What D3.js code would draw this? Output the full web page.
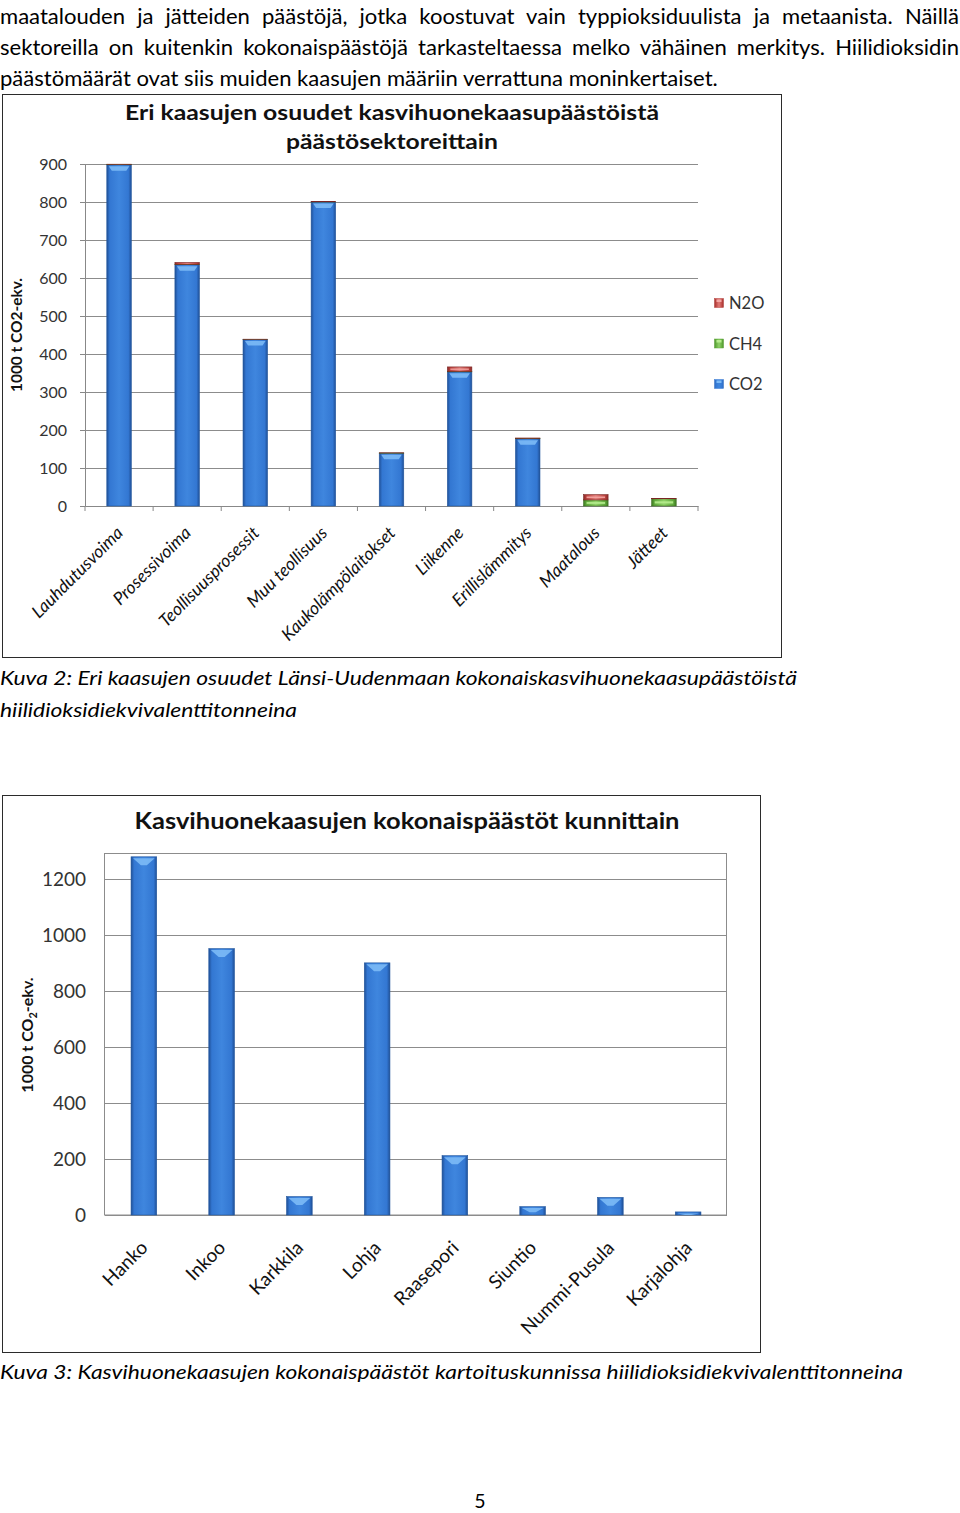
<!DOCTYPE html>
<html><head><meta charset="utf-8">
<script src="https://cdn.jsdelivr.net/npm/d3@7"></script>
<style>
html,body{margin:0;padding:0;background:#fff;}
svg{display:block;}
</style></head>
<body>
<svg id="page" width="960" height="1513"></svg>
<script>
// ---------- DATA ----------
const paragraphLines = [
  "maatalouden ja jätteiden päästöjä, jotka koostuvat vain typpioksiduulista ja metaanista. Näillä",
  "sektoreilla on kuitenkin kokonaispäästöjä tarkasteltaessa melko vähäinen merkitys. Hiilidioksidin",
  "päästömäärät ovat siis muiden kaasujen määriin verrattuna moninkertaiset."
];
const chart1TitleLines = ["Eri kaasujen osuudet kasvihuonekaasupäästöistä", "päästösektoreittain"];
const sectors = ["Lauhdutusvoima","Prosessivoima","Teollisuusprosessit","Muu teollisuus","Kaukolämpölaitokset","Liikenne","Erillislämmitys","Maatalous","Jätteet"];
const co2Values = [898, 635, 438, 800, 139, 353, 177, 0, 0];
const ch4Values = [0.5, 1, 0.5, 0.5, 0.5, 1, 1, 16, 19];
const n2oValues = [1, 5, 0.5, 1, 0.5, 12, 1, 14, 0.5];
const gasNames = ["CO2", "CH4", "N2O"];
const chart1Ticks = [0,100,200,300,400,500,600,700,800,900];
const chart1YLabel = "1000 t CO2-ekv.";
const caption2Lines = ["Kuva 2: Eri kaasujen osuudet Länsi-Uudenmaan kokonaiskasvihuonekaasupäästöistä", "hiilidioksidiekvivalenttitonneina"];

const chart2Title = "Kasvihuonekaasujen kokonaispäästöt kunnittain";
const municipalities = ["Hanko","Inkoo","Karkkila","Lohja","Raasepori","Siuntio","Nummi-Pusula","Karjalohja"];
const totalValues = [1280, 952, 66, 901, 212, 30, 63, 11];
const chart2Ticks = [0,200,400,600,800,1000,1200];
const caption3 = "Kuva 3: Kasvihuonekaasujen kokonaispäästöt kartoituskunnissa hiilidioksidiekvivalenttitonneina";
const pageNumber = "5";

// ---------- SETUP ----------
const svg = d3.select("#page");
const FONT = "Lato, 'Open Sans', sans-serif";
const defs = svg.append("defs");
function hGrad(id, dark, mid, light){
  const g = defs.append("linearGradient").attr("id", id).attr("x1","0").attr("x2","1").attr("y1","0").attr("y2","0");
  [[0,dark],[0.12,mid],[0.5,light],[0.88,mid],[1,dark]].forEach(([o,c])=>g.append("stop").attr("offset",o).attr("stop-color",c));
}
hGrad("gBlue", "#1f4f96", "#3377d2", "#3f86de");
hGrad("gGreen", "#3f7a22", "#5ea83a", "#8fd168");
hGrad("gRed", "#8a2a28", "#b8403c", "#e07b77");
const gasFill = {CO2:"url(#gBlue)", CH4:"url(#gGreen)", N2O:"url(#gRed)"};
const gasHi = {CO2:"#7cbaf6", CH4:"#b6ec8e", N2O:"#f4a6a3"};
const legendColor = {CO2:"#3a7dd6", CH4:"#5ea83a", N2O:"#b8403c"};

// ---------- PARAGRAPH ----------
const para = svg.append("g").attr("font-family", FONT).attr("fill", "#000");
// size font so that the last (unjustified) line is 718px wide
const probe = para.append("text").attr("font-size", 20).text(paragraphLines[2]);
const pw = probe.node().getComputedTextLength();
probe.remove();
const paraSize = 20 * 718 / pw;
para.attr("font-size", paraSize);
const first = Math.ceil(paraSize) + 1;
const paraY = [first, first + 31, first + 62];
paragraphLines.forEach((t,i)=>{
  const tx = para.append("text").attr("x",0).attr("y",paraY[i]).text(t);
  if (i < 2) {
    const w = tx.node().getComputedTextLength();
    const spaces = (t.match(/ /g) || []).length;
    tx.attr("word-spacing", (959 - w) / spaces);
  }
});

// ---------- CHART 1 ----------
svg.append("rect").attr("x",2.5).attr("y",94.5).attr("width",779).attr("height",563)
  .attr("fill","#fff").attr("stroke","#2b2b2b").attr("stroke-width",1);
const c1 = svg.append("g").attr("font-family", FONT);
c1.selectAll("text.t1").data(chart1TitleLines).join("text")
  .attr("x",392).attr("y",(d,i)=>120+i*29).attr("text-anchor","middle")
  .attr("font-weight","bold").attr("font-size",20.5).attr("fill","#111").text(d=>d)
  .attr("textLength",(d,i)=>i===0?534:212).attr("lengthAdjust","spacingAndGlyphs");

const x1 = d3.scaleBand().domain(sectors).range([85, 698]).paddingInner(0.64).paddingOuter(0.32);
const y1 = d3.scaleLinear().domain([0, 900]).range([506, 164]);

// gridlines + y axis
const yAx1 = c1.append("g").attr("transform","translate(85,0)")
  .call(d3.axisLeft(y1).tickValues(chart1Ticks).tickSize(5).tickPadding(13).tickFormat(d3.format("d")));
yAx1.select(".domain").attr("stroke","#888");
yAx1.selectAll(".tick line").attr("stroke","#888");
yAx1.selectAll(".tick text").attr("font-family",FONT).attr("font-size",16).attr("fill","#333");
c1.append("g").selectAll("line").data(chart1Ticks.filter(d=>d>0)).join("line")
  .attr("x1",85).attr("x2",698).attr("y1",d=>y1(d)+0.5).attr("y2",d=>y1(d)+0.5)
  .attr("stroke","#8c8c8c").attr("stroke-width",1);

// x axis
const xAx1 = c1.append("g").attr("transform","translate(0,506)")
  .call(d3.axisBottom(x1).tickSize(0).tickFormat(""));
xAx1.select(".domain").attr("stroke","#888");
const boundaries1 = d3.range(sectors.length+1).map(i => 85 + i*x1.step());
c1.append("g").selectAll("line").data(boundaries1).join("line")
  .attr("x1",d=>d).attr("x2",d=>d).attr("y1",506).attr("y2",511).attr("stroke","#888");

// stacked bars
const stackData = sectors.map((s,i)=>({sector:s, CO2:co2Values[i], CH4:ch4Values[i], N2O:n2oValues[i]}));
const stacked = d3.stack().keys(gasNames)(stackData);
stacked.forEach(layer=>{
  const key = layer.key;
  const g = c1.append("g");
  layer.forEach(seg=>{
    const h = y1(seg[0]) - y1(seg[1]);
    if (h <= 0) return;
    const bx = x1(seg.data.sector), bw = x1.bandwidth(), by = y1(seg[1]);
    g.append("rect").attr("x",bx).attr("y",by).attr("width",bw).attr("height",h)
      .attr("fill",gasFill[key]).attr("stroke", key==="CO2"?"#24589e":(key==="CH4"?"#3c6e22":"#7a2624")).attr("stroke-width",0.6);
    if (h >= 8) {
      if (key==="CO2") {
        g.append("path").attr("d",`M${bx+2},${by+1.5} L${bx+bw-2},${by+1.5} L${bx+bw-5},${by+6} L${bx+5},${by+6} Z`)
          .attr("fill",gasHi[key]).attr("opacity",0.9);
      } else {
        g.append("rect").attr("x",bx+3).attr("y",by+h*0.3).attr("width",bw-6).attr("height",Math.max(1.5,h*0.35))
          .attr("fill",gasHi[key]).attr("opacity",0.9);
      }
    } else if (h >= 2.5) {
      g.append("rect").attr("x",bx+3).attr("y",by+h*0.35).attr("width",bw-6).attr("height",h*0.3)
        .attr("fill",gasHi[key]).attr("opacity",0.9);
    }
  });
});

// x labels
c1.append("g").selectAll("text").data(sectors).join("text")
  .attr("transform",d=>`translate(${x1(d)+x1.bandwidth()/2+5},${534}) rotate(-45)`)
  .attr("text-anchor","end").attr("font-style","italic").attr("font-size",17.5).attr("fill","#111").text(d=>d);

// y title
c1.append("text").attr("transform","translate(22,335) rotate(-90)").attr("text-anchor","middle")
  .attr("font-weight","bold").attr("font-size",15).attr("fill","#111").text(chart1YLabel)
  .attr("textLength",114).attr("lengthAdjust","spacingAndGlyphs");

// legend
const legendOrder = ["N2O","CH4","CO2"];
const lg = c1.append("g");
legendOrder.forEach((k,i)=>{
  const yy = 303 + i*40.5;
  lg.append("rect").attr("x",714.5).attr("y",yy-4.5).attr("width",9).attr("height",9)
    .attr("fill",gasFill[k]).attr("stroke",legendColor[k]).attr("stroke-width",0.5);
  lg.append("rect").attr("x",716.5).attr("y",yy-3.5).attr("width",5).attr("height",2.5).attr("fill",gasHi[k]);
  lg.append("text").attr("x",729).attr("y",yy+6).attr("font-size",16.5).attr("fill","#333").text(k);
});

// caption 2
const cap = svg.append("g").attr("font-family",FONT).attr("font-style","italic").attr("font-size",19.5).attr("fill","#000");
cap.append("text").attr("x",0).attr("y",685).text(caption2Lines[0]).attr("textLength",797).attr("lengthAdjust","spacingAndGlyphs");
cap.append("text").attr("x",0).attr("y",717).text(caption2Lines[1]).attr("textLength",297).attr("lengthAdjust","spacingAndGlyphs");

// ---------- CHART 2 ----------
svg.append("rect").attr("x",2.5).attr("y",795.5).attr("width",758).attr("height",557)
  .attr("fill","#fff").attr("stroke","#2b2b2b").attr("stroke-width",1);
const c2 = svg.append("g").attr("font-family",FONT);
c2.append("text").attr("x",407).attr("y",829).attr("text-anchor","middle").attr("font-weight","bold")
  .attr("font-size",22).attr("fill","#111").text(chart2Title).attr("textLength",545).attr("lengthAdjust","spacingAndGlyphs");

const x2 = d3.scaleBand().domain(municipalities).range([105, 727]).paddingInner(0.67).paddingOuter(0.335);
const y2 = d3.scaleLinear().domain([0, 1290]).range([1215, 854]);

c2.append("rect").attr("x",104.5).attr("y",853.5).attr("width",622).attr("height",361.5)
  .attr("fill","none").attr("stroke","#8c8c8c");
c2.append("g").selectAll("line").data(chart2Ticks).join("line")
  .attr("x1",105).attr("x2",727).attr("y1",d=>Math.round(y2(d))+0.5).attr("y2",d=>Math.round(y2(d))+0.5)
  .attr("stroke","#8c8c8c");
const yAx2 = c2.append("g").attr("transform","translate(105,0)")
  .call(d3.axisLeft(y2).tickValues(chart2Ticks).tickSize(0).tickPadding(19).tickFormat(d3.format("d")));
yAx2.select(".domain").remove();
yAx2.selectAll(".tick text").attr("font-family",FONT).attr("font-size",19).attr("fill","#333");

const bars2 = c2.append("g");
municipalities.forEach((m,i)=>{
  const bx = x2(m), bw = x2.bandwidth(), by = y2(totalValues[i]), h = y2(0) - y2(totalValues[i]);
  bars2.append("rect").attr("x",bx).attr("y",by).attr("width",bw).attr("height",h)
    .attr("fill","url(#gBlue)").attr("stroke","#24589e").attr("stroke-width",0.6);
  const th = Math.min(7, h*0.5);
  bars2.append("path").attr("d",`M${bx+2},${by+1.5} L${bx+bw-2},${by+1.5} L${bx+bw/2+3},${by+1.5+th} L${bx+bw/2-3},${by+1.5+th} Z`)
    .attr("fill","#7cbaf6").attr("opacity",0.9);
});

c2.append("g").selectAll("text").data(municipalities).join("text")
  .attr("transform",d=>`translate(${x2(d)+x2.bandwidth()/2+5},${1249}) rotate(-45)`)
  .attr("text-anchor","end").attr("font-size",19).attr("fill","#111").text(d=>d);

const yt2 = c2.append("text").attr("transform","translate(33,1035) rotate(-90)").attr("text-anchor","middle")
  .attr("font-weight","bold").attr("font-size",16).attr("fill","#111");
yt2.append("tspan").text("1000 t CO");
yt2.append("tspan").attr("font-size",11).attr("dy",4).text("2");
yt2.append("tspan").attr("dy",-4).text("-ekv.");

svg.append("text").attr("x",0).attr("y",1379).attr("font-family",FONT).attr("font-style","italic").attr("font-size",19.5)
  .text(caption3).attr("textLength",903).attr("lengthAdjust","spacingAndGlyphs");
svg.append("text").attr("x",480).attr("y",1508).attr("text-anchor","middle").attr("font-family",FONT).attr("font-size",19.5).text(pageNumber);
</script>
</body></html>
